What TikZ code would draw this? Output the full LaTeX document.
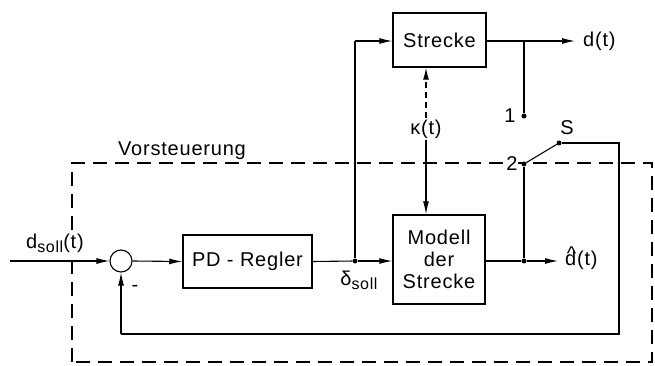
\documentclass[tikz,border=0pt]{standalone}
\usepackage{fontspec}
\setmainfont{Liberation Sans}[LetterSpace=4]
\usetikzlibrary{arrows.meta}
\begin{document}
\begin{tikzpicture}[x=1pt,y=-1pt,
  font=\fontsize{20}{23}\selectfont,
  blk/.style={draw,line width=1.5pt,inner sep=0pt,align=center},
  ln/.style={line width=1.1pt},
  arr/.style={ln,-{Latex[length=13pt,width=6pt]}},
  dt/.style={circle,fill,inner sep=0pt,minimum size=5pt},
  lbl/.style={inner sep=1pt},
  vdash/.style={line width=1.2pt,dash pattern=on 14pt off 8pt}]
\newcommand{\subsoll}{\raisebox{-4pt}{\fontsize{16}{18}\selectfont soll}}
\newcommand{\dhatsym}{\rlap{\hspace{1.6pt}\raisebox{5pt}{\^{}}}d}
\useasboundingbox (0,0) rectangle (655,366);
% dashed frame
\draw[vdash] (72,362) -- (72,163) -- (652,163) -- (652,362) -- cycle;
% blocks
\node[blk,minimum width=93pt,minimum height=54pt] (strecke) at (439.5,40) {Strecke};
\node[blk,minimum width=92pt,minimum height=89pt,font=\fontsize{20}{22}\selectfont] (modell) at (439,259.5) {Modell\\der\\Strecke};
\node[blk,minimum width=129pt,minimum height=53pt] (pd) at (247.5,261.5) {PD - Regler};
\node[draw,circle,line width=1.1pt,minimum size=22pt,inner sep=0pt] (sum) at (121,261) {};
% points
\coordinate (in) at (10,261);
\node[dt] (ds) at (355,261) {};
\coordinate (up) at (355,41);
\coordinate (br) at (524,41);
\coordinate (dout) at (575,41);
\node[dt] (p1) at (524,116) {};
\node[dt] (p2) at (524,164) {};
\node[dt] (pS) at (559,143) {};
\node[dt] (mo) at (524,261) {};
\coordinate (dhat) at (558,261);
\coordinate (rt) at (619,143);
\coordinate (rb) at (619,334);
\coordinate (lb) at (121,334);
\node[lbl,fill=white] (xt) at (426,129) {κ(t)};
% labels
\node[lbl,fill=white,inner sep=0pt] (ldsoll) at (55,243) {d\subsoll(t)};
\node[lbl] (ldelta) at (359,280) {δ\subsoll};
\node[lbl,anchor=west] (ldt) at (582,41) {d(t)};
\node[lbl,anchor=west] (ldh) at (564,258) {\dhatsym(t)};
\node[lbl] (l1) at (510,116) {1};
\node[lbl,fill=white,inner sep=0pt] (l2) at (512,164) {2};
\node[lbl] (lS) at (567,128) {S};
\node[lbl] (lmin) at (135,288) {-};
\node[lbl] (lvs) at (182,151) {Vorsteuerung};
% connectors
\draw[arr] (in) -- (sum.west);
\draw[arr] (sum.east) -- (pd.west);
\draw[ln] (pd.east) -- (ds);
\draw[arr] (ds) -- (modell.west |- ds);
\draw[ln] (ds) -- (up);
\draw[arr] (up) -- (strecke.west |- up);
\draw[ln] (strecke.east |- br) -- (br);
\draw[arr] (br) -- (dout);
\draw[ln] (br) -- (p1);
\draw[ln,dash pattern=on 6pt off 4pt,-{Latex[length=12pt,width=6pt]}] (xt.north) -- (strecke.south -| xt);
\draw[arr] (xt.south) -- (modell.north -| xt);
\draw[ln] (modell.east |- mo) -- (mo);
\draw[arr] (mo) -- (dhat);
\draw[ln] (mo) -- (p2);
\draw[ln] (p2) -- (pS);
\draw[ln] (pS) -- (rt) -- (rb) -- (lb);
\draw[arr] (lb) -- (sum.south);
\end{tikzpicture}
\end{document}
